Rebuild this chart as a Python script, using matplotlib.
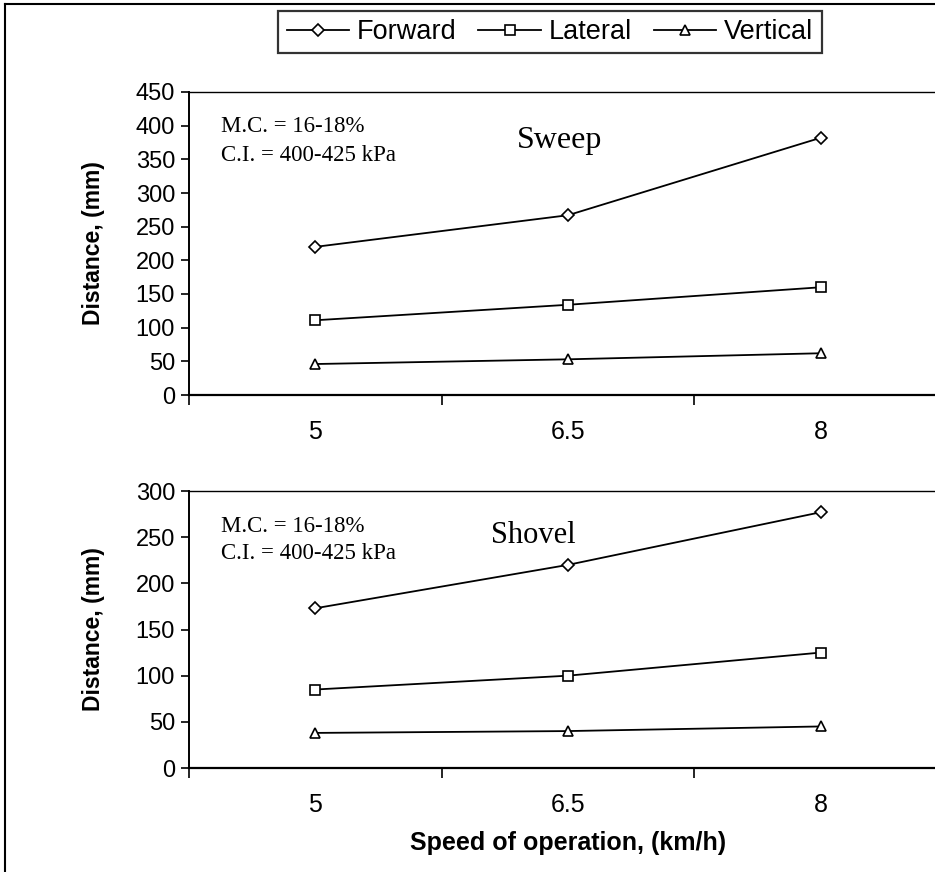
import matplotlib.pyplot as plt
from matplotlib.lines import Line2D

speeds = ["5", "6.5", "8"]
series_names = ["Forward", "Lateral", "Vertical"]
markers = ["D", "s", "^"]

sweep_forward = [220, 267, 382]
sweep_lateral = [111, 134, 160]
sweep_vertical = [46, 53, 62]

shovel_forward = [173, 220, 277]
shovel_lateral = [85, 100, 125]
shovel_vertical = [38, 40, 45]

plt.rcParams["font.family"] = ["Liberation Sans", "DejaVu Sans"]

W, H = 935, 872
fig = plt.figure(figsize=(W / 100, H / 100), dpi=100)


def px_axes(left, top, right, bottom):
    return fig.add_axes([left / W, 1 - bottom / H, (right - left) / W, (bottom - top) / H])


def draw_panel(ax, values, ymax, step, title, title_x, title_size, note_y, note_ls):
    x = range(len(speeds))
    for vals, m in zip(values, markers):
        ax.plot(x, vals, color="black", lw=1.3, marker=m,
                ms=7 if m != "D" else 6, mfc="white", mec="black", mew=1.2)
    ax.set_xlim(-0.5, len(speeds) - 0.5)
    ax.set_ylim(0, ymax)
    ax.set_yticks(range(0, ymax + 1, step))
    ax.set_xticks([i - 0.5 for i in range(len(speeds) + 1)])
    ax.set_xticklabels([])
    ax.set_xticks(list(x), minor=True)
    ax.set_xticklabels(speeds, minor=True)
    ax.tick_params(axis="x", which="minor", length=0, pad=18, labelsize=18)
    ax.tick_params(axis="x", which="major", length=7, width=1.2, direction="out")
    ax.tick_params(axis="y", length=6, width=1.2, direction="out", labelsize=17, pad=4)
    for s in ax.spines.values():
        s.set_linewidth(1.0)
    ax.spines["left"].set_linewidth(1.4)
    ax.spines["bottom"].set_linewidth(1.6)
    ax.text(0.042, note_y, "M.C. = 16-18%\nC.I. = 400-425 kPa",
            transform=ax.transAxes, family="Liberation Serif", fontsize=16.5,
            va="top", ha="left", linespacing=note_ls)
    ax.text(title_x, 0.84, title, transform=ax.transAxes,
            family="Liberation Serif", fontsize=title_size, va="center", ha="left")
    ax.set_ylabel("Distance, (mm)", fontsize=16.5, fontweight="bold", labelpad=22)


ax1 = px_axes(189, 92, 947, 395)
draw_panel(ax1, [sweep_forward, sweep_lateral, sweep_vertical], 450, 50,
           "Sweep", 0.433, 23, 0.92, 1.5)

ax2 = px_axes(189, 491, 947, 768)
draw_panel(ax2, [shovel_forward, shovel_lateral, shovel_vertical], 300, 50,
           "Shovel", 0.398, 22, 0.91, 1.35)
ax2.set_xlabel("Speed of operation, (km/h)", fontsize=18, fontweight="bold", labelpad=10)

handles = [Line2D([], [], color="black", lw=1.3, marker=m, ms=7 if m != "D" else 6,
                  mfc="white", mec="black", mew=1.2) for m in markers]
leg = fig.legend(handles, series_names, loc="center", bbox_to_anchor=(550 / W, 1 - 32 / H),
                 ncol=3, fontsize=19.5, frameon=True, fancybox=False, edgecolor="black",
                 handlelength=2.3, handletextpad=0.3, columnspacing=0.8, borderpad=0.3)
leg.get_frame().set_linewidth(1.6)

# outer frame lines (left and top edges of the figure)
fig.add_artist(Line2D([5 / W, 5 / W], [0, 1 - 4 / H], color="black", lw=1.5))
fig.add_artist(Line2D([5 / W, 1], [1 - 4 / H, 1 - 4 / H], color="black", lw=1.5))

fig.savefig("out.png", dpi=100)
